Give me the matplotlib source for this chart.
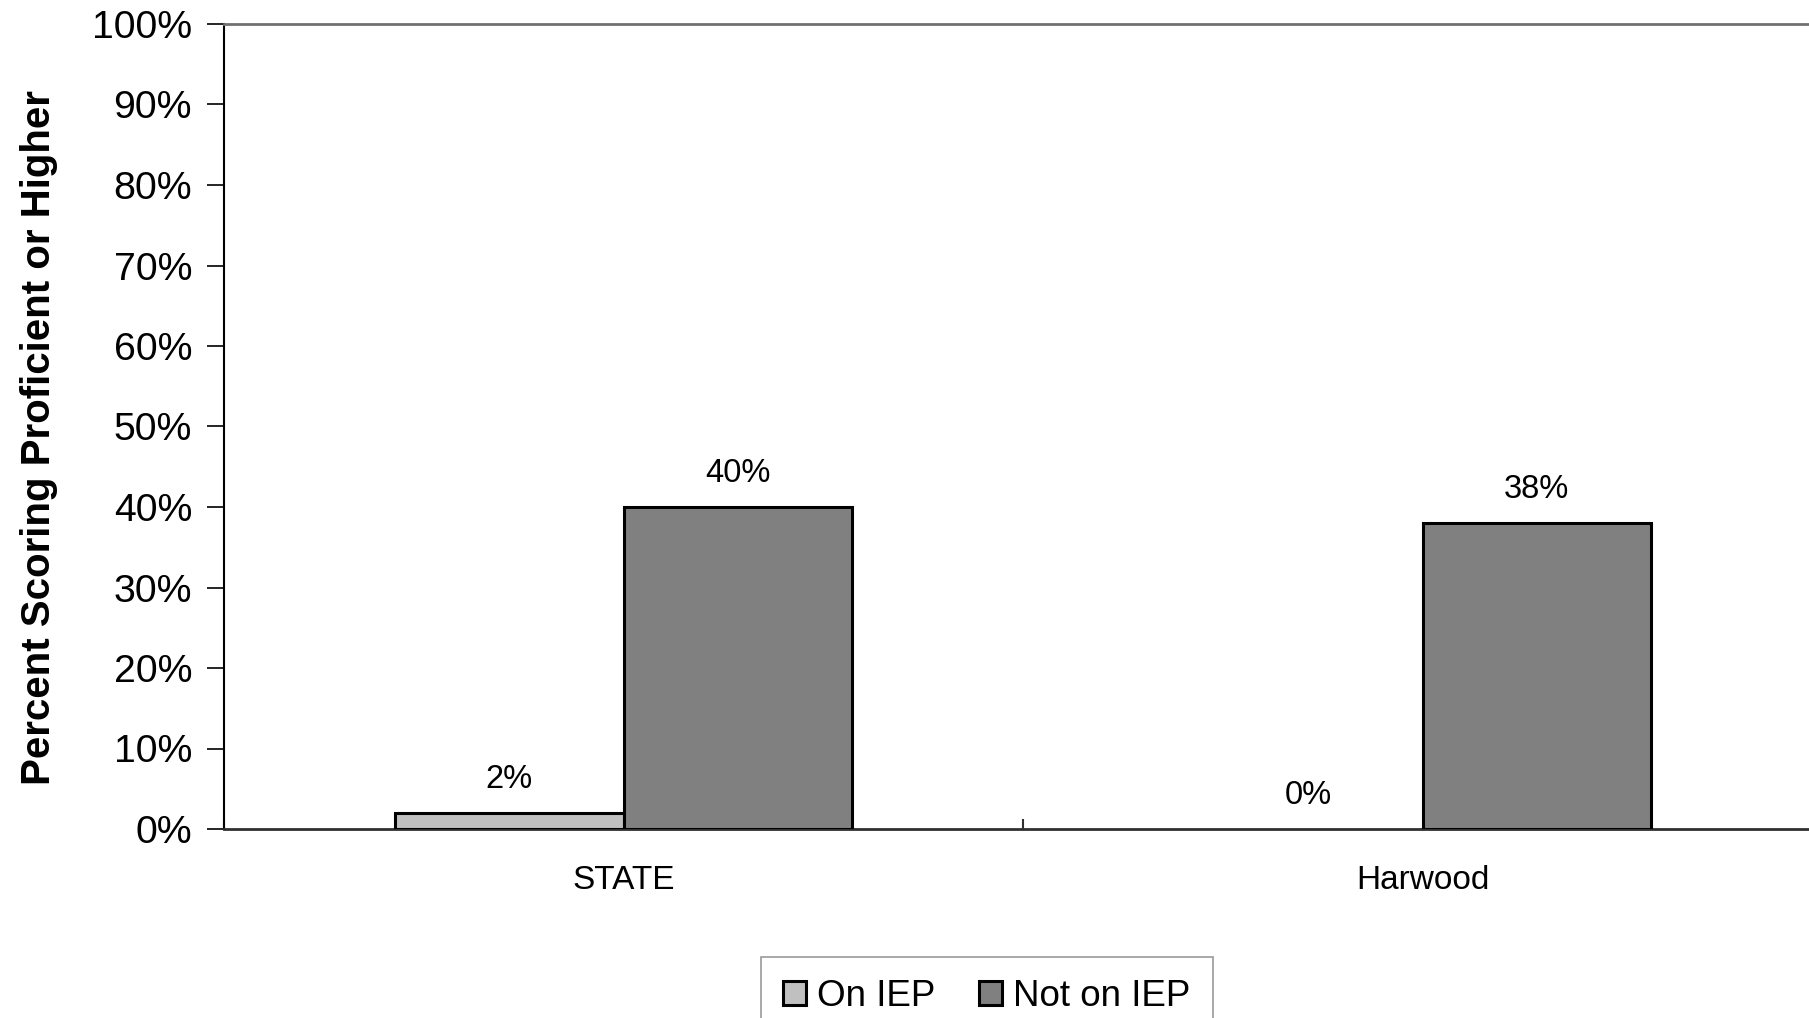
import matplotlib
matplotlib.use("Agg")
import matplotlib.pyplot as plt
from matplotlib.ticker import FixedLocator, PercentFormatter
from matplotlib.patches import Patch
import numpy as np

plt.rcParams['font.family'] = ['Liberation Sans', 'DejaVu Sans']

categories = ["STATE", "Harwood"]
series_names = ["On IEP", "Not on IEP"]
on_iep = [2, 0]
not_on_iep = [40, 38]
yticks = [0, 10, 20, 30, 40, 50, 60, 70, 80, 90, 100]

colors = ["#C0C0C0", "#808080"]

W, H = 1809, 1018
fig = plt.figure(figsize=(W / 100, H / 100), dpi=100)
ax = fig.add_axes([224 / W, 1 - 829 / H, 1598 / W, 805 / H])

x = np.arange(len(categories))
bw = 1 / 3.5
values = [on_iep, not_on_iep]
for i, (vals, col) in enumerate(zip(values, colors)):
    pos = x + (i - 0.5) * bw
    lws = [2.2 if v > 0 else 0 for v in vals]
    ax.bar(pos, vals, width=bw, color=col, edgecolor="black", linewidth=lws, zorder=3)
    for p, v in zip(pos, vals):
        ax.annotate(f"{v}%", (p, v), xytext=(0, 24), textcoords="offset points",
                    ha="center", va="center", fontsize=23.5)

ax.set_xlim(-0.5, 1.5)
ax.set_ylim(0, 100)
ax.set_yticks(yticks)
ax.yaxis.set_major_formatter(PercentFormatter(decimals=0))
ax.tick_params(axis="y", labelsize=28.3, length=12, width=1.2, direction="out", pad=11)

ax.set_xticks(x)
ax.set_xticklabels(categories)
ax.tick_params(axis="x", which="major", length=0, labelsize=24, pad=26)
ax.xaxis.set_minor_locator(FixedLocator([-0.5, 0.5, 1.5]))
ax.tick_params(axis="x", which="minor", direction="in", length=7, width=1.5, color="#303030")

ax.spines["left"].set_color("black")
ax.spines["left"].set_linewidth(1.5)
ax.spines["bottom"].set_color("#303030")
ax.spines["bottom"].set_linewidth(2)
ax.spines["top"].set_color("#707070")
ax.spines["top"].set_linewidth(2)
ax.spines["right"].set_visible(False)

ax.set_ylabel("Percent Scoring Proficient or Higher", fontsize=29, fontweight="bold")
ax.yaxis.set_label_coords(-0.104, 0.486)

handles = [Patch(facecolor=c, edgecolor="black", linewidth=2.2) for c in colors]
leg = fig.legend(handles, series_names, loc="upper left",
                 bbox_to_anchor=(761 / W, 1 - 957 / H), ncol=2, fontsize=26.5,
                 frameon=True, fancybox=False, edgecolor="#808080",
                 handlelength=0.62, handleheight=0.62, handletextpad=0.3,
                 columnspacing=1.2, borderpad=0.6, borderaxespad=0)
leg.get_frame().set_linewidth(1.2)

fig.savefig("out.png", dpi=100)
